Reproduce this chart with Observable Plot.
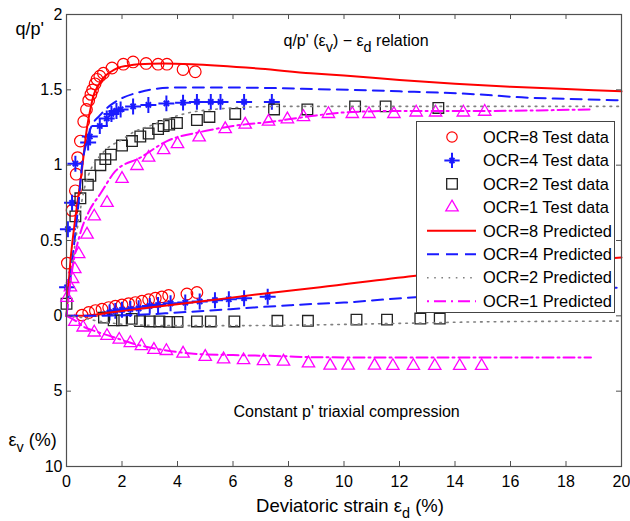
<!DOCTYPE html>
<html>
<head>
<meta charset="utf-8">
<script src="https://cdn.jsdelivr.net/npm/d3@7"></script>
<script src="https://cdn.jsdelivr.net/npm/@observablehq/plot@0.6"></script>
<style>
  html, body { margin: 0; padding: 0; background: #fff; }
  #wrap { position: relative; width: 630px; height: 521px; font-family: "Liberation Sans", Arial, sans-serif; }
  #legend { position: absolute; left: 416px; top: 121px; width: 197px; height: 190px; background: #fff; border: 1px solid #444; }
</style>
</head>
<body>
<div id="wrap"><div id="chart"></div><div id="legend"></div></div>
<script>
// ---------- axis ticks ----------
const xTicks = [0, 2, 4, 6, 8, 10, 12, 14, 16, 18, 20];
const yTickValues = [2, 1.5, 1, 0.5, 0, -0.5, -1];
const yTickLabels = ["2", "1.5", "1", "0.5", "0", "5", "10"];

// ---------- q/p' test data (x = deviatoric strain %, y = q/p') ----------
const ocr8TestQx = [0.03, 0.2, 0.32, 0.35, 0.4, 0.5, 0.62, 0.72, 0.8, 0.88, 0.94, 1.03, 1.1, 1.2, 1.33, 1.64, 2.05, 2.4, 2.87, 3.3, 3.62, 4.2, 4.64];
const ocr8TestQy = [0.35, 0.70, 0.83, 0.94, 1.05, 1.16, 1.29, 1.37, 1.43, 1.47, 1.50, 1.54, 1.57, 1.59, 1.61, 1.645, 1.67, 1.685, 1.675, 1.67, 1.67, 1.635, 1.62];
const ocr4TestQx = [0.02, 0.05, 0.2, 0.32, 0.78, 0.84, 1.2, 1.45, 1.62, 1.8, 1.95, 2.4, 2.95, 3.6, 4.2, 4.7, 5.2, 5.55, 6.4, 7.4];
const ocr4TestQy = [0.19, 0.575, 0.75, 1.01, 1.15, 1.19, 1.26, 1.31, 1.34, 1.36, 1.37, 1.39, 1.40, 1.41, 1.415, 1.42, 1.42, 1.42, 1.42, 1.42];
const ocr2TestQx = [0.0, 0.32, 0.5, 0.77, 0.86, 1.22, 1.4, 1.6, 2.0, 2.36, 2.66, 2.96, 3.3, 3.5, 3.7, 3.98, 4.7, 5.15, 6.08, 7.48, 8.68, 10.4, 11.5, 13.4];
const ocr2TestQy = [0.08, 0.66, 0.78, 0.87, 0.93, 1.0, 1.04, 1.07, 1.13, 1.16, 1.19, 1.21, 1.24, 1.26, 1.27, 1.28, 1.30, 1.32, 1.34, 1.37, 1.37, 1.39, 1.39, 1.38];
const ocr1TestQx = [0.02, 0.14, 0.22, 0.3, 0.44, 0.74, 1.0, 1.46, 2.0, 2.54, 2.96, 3.5, 4.0, 4.78, 5.72, 6.44, 7.28, 7.96, 8.54, 9.44, 10.3, 10.9, 11.8, 12.6, 13.3, 14.3, 15.07];
const ocr1TestQy = [0.12, 0.19, 0.245, 0.31, 0.41, 0.54, 0.66, 0.75, 0.91, 0.995, 1.05, 1.1, 1.14, 1.185, 1.24, 1.27, 1.29, 1.305, 1.32, 1.34, 1.34, 1.34, 1.34, 1.35, 1.35, 1.35, 1.355];

// ---------- q/p' predicted ----------
const ocr8PredQx = [0, 0.14, 0.32, 0.55, 0.74, 0.86, 0.97, 1.15, 1.33, 1.6, 1.85, 2.2, 2.6, 3.5, 4.5, 5.5, 7, 8.8, 10, 12, 14, 16, 18, 20];
const ocr8PredQy = [0, 0.36, 0.65, 0.96, 1.25, 1.37, 1.46, 1.53, 1.58, 1.62, 1.645, 1.66, 1.67, 1.675, 1.67, 1.66, 1.64, 1.61, 1.595, 1.565, 1.54, 1.52, 1.505, 1.49];
const ocr4PredQx = [0, 0.2, 0.44, 0.56, 0.68, 0.86, 1.2, 1.6, 2.06, 2.54, 3.14, 4, 6, 9, 12, 14.8, 16.4, 18, 20];
const ocr4PredQy = [0, 0.35, 0.76, 1.0, 1.12, 1.24, 1.33, 1.40, 1.45, 1.48, 1.505, 1.515, 1.515, 1.505, 1.49, 1.47, 1.45, 1.44, 1.43];
const ocr2PredQx = [0, 0.25, 0.45, 0.65, 0.9, 1.2, 1.46, 2, 2.42, 3, 3.62, 4.46, 5.3, 6.5, 8, 10, 20];
const ocr2PredQy = [0, 0.4, 0.65, 0.85, 0.98, 1.06, 1.11, 1.17, 1.22, 1.26, 1.305, 1.35, 1.37, 1.385, 1.39, 1.39, 1.39];
const ocr1PredQx = [0, 0.2, 0.5, 0.8, 1.22, 1.76, 2.66, 3.62, 4.82, 6.0, 7.45, 9.0, 10, 12, 14.8, 18.85];
const ocr1PredQy = [0, 0.3, 0.55, 0.69, 0.81, 0.96, 1.05, 1.16, 1.22, 1.26, 1.29, 1.33, 1.35, 1.36, 1.36, 1.37];

// ---------- volumetric strain test data (εv %, compression positive, dilation negative) ----------
const ocr8TestEx = [0.56, 0.8, 1.04, 1.28, 1.52, 1.76, 2.0, 2.24, 2.48, 2.72, 2.96, 3.2, 3.44, 3.68, 4.34, 4.7];
const ocr8TestEv = [-0.05, -0.22, -0.35, -0.44, -0.55, -0.64, -0.73, -0.81, -0.88, -0.97, -1.07, -1.17, -1.26, -1.35, -1.45, -1.55];
const ocr4TestEx = [1.55, 1.76, 2.0, 2.3, 2.6, 3.0, 3.3, 3.75, 4.28, 4.8, 5.35, 5.85, 6.4, 7.25];
const ocr4TestEv = [-0.22, -0.33, -0.4, -0.45, -0.5, -0.66, -0.72, -0.83, -0.88, -0.95, -1.04, -1.1, -1.17, -1.26];
const ocr2TestEx = [1.35, 1.7, 2.0, 2.35, 2.65, 3.0, 3.35, 3.7, 4.0, 4.7, 5.2, 6.05, 7.6, 8.7, 10.45, 11.55, 12.75, 13.45];
const ocr2TestEv = [0.12, 0.3, 0.3, 0.2, 0.35, 0.37, 0.37, 0.4, 0.4, 0.37, 0.37, 0.37, 0.33, 0.33, 0.25, 0.25, 0.18, 0.18];
const ocr1TestEx = [0.3, 0.6, 1.0, 1.46, 1.9, 2.3, 2.7, 3.15, 3.6, 4.2, 5.0, 5.66, 6.38, 7.1, 7.82, 8.72, 9.5, 10.15, 11.1, 11.76, 12.5, 13.27, 14.17, 14.96];
const ocr1TestEv = [0.4, 0.77, 1.1, 1.33, 1.58, 1.8, 2.0, 2.25, 2.33, 2.5, 2.72, 2.88, 2.94, 3.0, 3.03, 3.15, 3.3, 3.3, 3.3, 3.32, 3.32, 3.32, 3.32, 3.32];

// ---------- volumetric strain predicted ----------
const ocr8PredEx = [0, 0.6, 1.5, 3, 4.82, 7, 9.14, 12.5, 16, 20];
const ocr8PredEv = [0, 0, -0.2, -0.55, -0.95, -1.45, -1.9, -2.65, -3.3, -3.87];
const ocr4PredEx = [0, 1, 2, 3, 3.86, 5, 5.9, 6.74, 8.06, 9.02, 10, 11.2, 12.26, 14, 16, 18, 20];
const ocr4PredEv = [0, 0, -0.03, -0.1, -0.2, -0.33, -0.44, -0.55, -0.7, -0.8, -0.88, -1.05, -1.2, -1.35, -1.55, -1.72, -1.88];
const ocr2PredEx = [0, 0.5, 1, 1.5, 2.4, 4, 6, 9, 12, 15, 20];
const ocr2PredEv = [0, 0.1, 0.3, 0.45, 0.6, 0.65, 0.65, 0.6, 0.5, 0.4, 0.35];
const ocr1PredEx = [0, 0.3, 0.6, 1, 1.5, 2, 2.5, 3, 3.6, 4.8, 6, 7.8, 9, 12, 15, 18.9];
const ocr1PredEv = [0, 0.3, 0.7, 1.0, 1.3, 1.6, 1.9, 2.1, 2.3, 2.54, 2.6, 2.68, 2.75, 2.77, 2.77, 2.77];

// ---------- helpers ----------
const qPts = (xs, ys) => xs.map((x, i) => ({x, y: ys[i]}));
const evPts = (xs, evs) => xs.map((x, i) => ({x, y: -evs[i] / 10})); // εv axis: 5% ↔ 0.5 unit below 0

const RED = "#ff0000", BLUE = "#1a1aff", BLACK = "#222222", GRAY = "#808080", MAGENTA = "#ff00ff", AXIS = "#505050";
const W = 630, H = 521, ML = 66, MR = 9, MT = 14, MB = 55;
const innerW = W - ML - MR, innerH = H - MT - MB;

const dots = (data, opts) => Plot.dot(data, {x: "x", y: "y", fill: "none", ...opts});
const curve = (data, opts) => Plot.line(data, {x: "x", y: "y", curve: "monotone-x", fill: "none", ...opts});

const ocr8Test = [...qPts(ocr8TestQx, ocr8TestQy), ...evPts(ocr8TestEx, ocr8TestEv)];
const ocr4Test = [...qPts(ocr4TestQx, ocr4TestQy), ...evPts(ocr4TestEx, ocr4TestEv)];
const ocr2Test = [...qPts(ocr2TestQx, ocr2TestQy), ...evPts(ocr2TestEx, ocr2TestEv)];
const ocr1Test = [...qPts(ocr1TestQx, ocr1TestQy), ...evPts(ocr1TestEx, ocr1TestEv)];

const chart = Plot.plot({
  width: W, height: H,
  marginLeft: ML, marginRight: MR, marginTop: MT, marginBottom: MB,
  style: {background: "white", color: "black", fontFamily: "'Liberation Sans', Arial, sans-serif", fontSize: "16px", overflow: "visible"},
  x: {domain: [0, 20], ticks: xTicks, tickSize: 0, tickPadding: 9, label: null},
  y: {domain: [-1, 2], ticks: yTickValues, tickSize: 0, tickPadding: 4, label: null,
      tickFormat: d => yTickLabels[yTickValues.indexOf(d)]},
  marks: [
    // test data
    dots(ocr8Test, {symbol: "circle", r: 5.8, stroke: RED, strokeWidth: 1.2}),
    dots(ocr4Test, {symbol: "plus", r: 5.2, stroke: BLUE, strokeWidth: 2}),
    dots(ocr4Test, {symbol: "times", r: 2.5, stroke: BLUE, strokeWidth: 2}),
    dots(ocr2Test, {symbol: "square", r: 6, stroke: BLACK, strokeWidth: 1.3}),
    dots(ocr1Test, {symbol: "triangle", r: 4.6, stroke: MAGENTA, strokeWidth: 1.3}),
    // predicted curves
    curve(qPts(ocr8PredQx, ocr8PredQy), {stroke: RED, strokeWidth: 2}),
    curve(evPts(ocr8PredEx, ocr8PredEv), {stroke: RED, strokeWidth: 2}),
    curve(qPts(ocr4PredQx, ocr4PredQy), {stroke: BLUE, strokeWidth: 2, strokeDasharray: "11,7"}),
    curve(evPts(ocr4PredEx, ocr4PredEv), {stroke: BLUE, strokeWidth: 2, strokeDasharray: "11,7"}),
    curve(qPts(ocr2PredQx, ocr2PredQy), {stroke: GRAY, strokeWidth: 1.6, strokeDasharray: "1.6,5.2"}),
    curve(evPts(ocr2PredEx, ocr2PredEv), {stroke: GRAY, strokeWidth: 1.6, strokeDasharray: "1.6,5.2"}),
    curve(qPts(ocr1PredQx, ocr1PredQy), {stroke: MAGENTA, strokeWidth: 2, strokeDasharray: "11,4,2,4"}),
    curve(evPts(ocr1PredEx, ocr1PredEv), {stroke: MAGENTA, strokeWidth: 2, strokeDasharray: "11,4,2,4"}),
    // frame and inward ticks
    Plot.frame({stroke: AXIS, strokeWidth: 1.2}),
    Plot.ruleX(xTicks, {x: d => d, insetTop: innerH - 5, stroke: AXIS}),
    Plot.ruleX(xTicks, {x: d => d, insetBottom: innerH - 5, stroke: AXIS}),
    Plot.ruleY(yTickValues, {y: d => d, insetRight: innerW - 5, stroke: AXIS}),
    Plot.ruleY(yTickValues, {y: d => d, insetLeft: innerW - 5, stroke: AXIS}),
    // annotations
    Plot.text(["q/p'"], {frameAnchor: "top-left", textAnchor: "start", dx: -51, dy: 8, fontSize: 18}),
    Plot.text(["ε_v (%)"], {frameAnchor: "bottom-left", textAnchor: "start", dx: -58, dy: -21, fontSize: 18}),
    Plot.text(["q/p' (ε_v) − ε_d relation"], {frameAnchor: "top-left", textAnchor: "start", dx: 217, dy: 20, fontSize: 16}),
    Plot.text(["Constant p' triaxial compression"], {frameAnchor: "bottom-left", textAnchor: "start", dx: 167, dy: -50, fontSize: 16}),
    Plot.text(["Deviatoric strain ε_d (%)"], {frameAnchor: "bottom", dx: 6, dy: 45, fontSize: 18.5})
  ]
});

// subscripts: "_x" -> lowered tspan
function subscriptify(root) {
  root.querySelectorAll("text").forEach(t => {
    const s = t.textContent;
    if (!s.includes("_")) return;
    const fs = parseFloat(t.getAttribute("font-size")) || 16;
    t.textContent = "";
    let shifted = false;
    for (const part of s.split(/(_\w)/)) {
      if (!part) continue;
      const ts = document.createElementNS("http://www.w3.org/2000/svg", "tspan");
      if (part[0] === "_") {
        ts.textContent = part.slice(1);
        ts.setAttribute("dy", (fs * 0.4).toFixed(1));
        ts.setAttribute("font-size", (fs * 0.9).toFixed(1));
        shifted = true;
      } else {
        ts.textContent = part;
        if (shifted) { ts.setAttribute("dy", (-fs * 0.4).toFixed(1)); shifted = false; }
      }
      t.appendChild(ts);
    }
  });
}
subscriptify(chart);
document.getElementById("chart").appendChild(chart);

// ---------- legend ----------
const legendItems = [
  {label: "OCR=8 Test data", kind: "marker", symbol: d3.symbolCircle, r: 5.2, color: RED, sw: 1.2},
  {label: "OCR=4 Test data", kind: "star", color: BLUE},
  {label: "OCR=2 Test data", kind: "marker", symbol: d3.symbolSquare, r: 6, color: BLACK, sw: 1.3},
  {label: "OCR=1 Test data", kind: "marker", symbol: d3.symbolTriangle, r: 4.6, color: MAGENTA, sw: 1.3},
  {label: "OCR=8 Predicted", kind: "line", color: RED, dash: null, sw: 2},
  {label: "OCR=4 Predicted", kind: "line", color: BLUE, dash: "12,7", sw: 2},
  {label: "OCR=2 Predicted", kind: "line", color: GRAY, dash: "1.6,5.6", sw: 1.6},
  {label: "OCR=1 Predicted", kind: "line", color: MAGENTA, dash: "2,5,12,5", sw: 2}
];
const lg = d3.select("#legend").append("svg").attr("width", 197).attr("height", 190)
  .style("font-family", "'Liberation Sans', Arial, sans-serif").style("font-size", "16.4px");
legendItems.forEach((it, i) => {
  const cy = 15 + i * 23.45;
  const g = lg.append("g");
  if (it.kind === "marker") {
    g.append("path").attr("transform", `translate(35,${cy})`)
      .attr("d", d3.symbol(it.symbol, Math.PI * it.r * it.r)())
      .attr("fill", "none").attr("stroke", it.color).attr("stroke-width", it.sw);
  } else if (it.kind === "star") {
    g.append("path").attr("transform", `translate(35,${cy})`)
      .attr("d", d3.symbol(d3.symbolPlus, Math.PI * 5 * 5)())
      .attr("fill", "none").attr("stroke", it.color).attr("stroke-width", 2);
    g.append("path").attr("transform", `translate(35,${cy})`)
      .attr("d", d3.symbol(d3.symbolTimes, Math.PI * 2.4 * 2.4)())
      .attr("fill", "none").attr("stroke", it.color).attr("stroke-width", 2);
  } else {
    g.append("line").attr("x1", 10).attr("x2", 59).attr("y1", cy).attr("y2", cy)
      .attr("stroke", it.color).attr("stroke-width", it.sw)
      .attr("stroke-dasharray", it.dash);
  }
  g.append("text").attr("x", 66).attr("y", cy).attr("dy", "0.35em").attr("fill", "black").text(it.label);
});
</script>
</body>
</html>
